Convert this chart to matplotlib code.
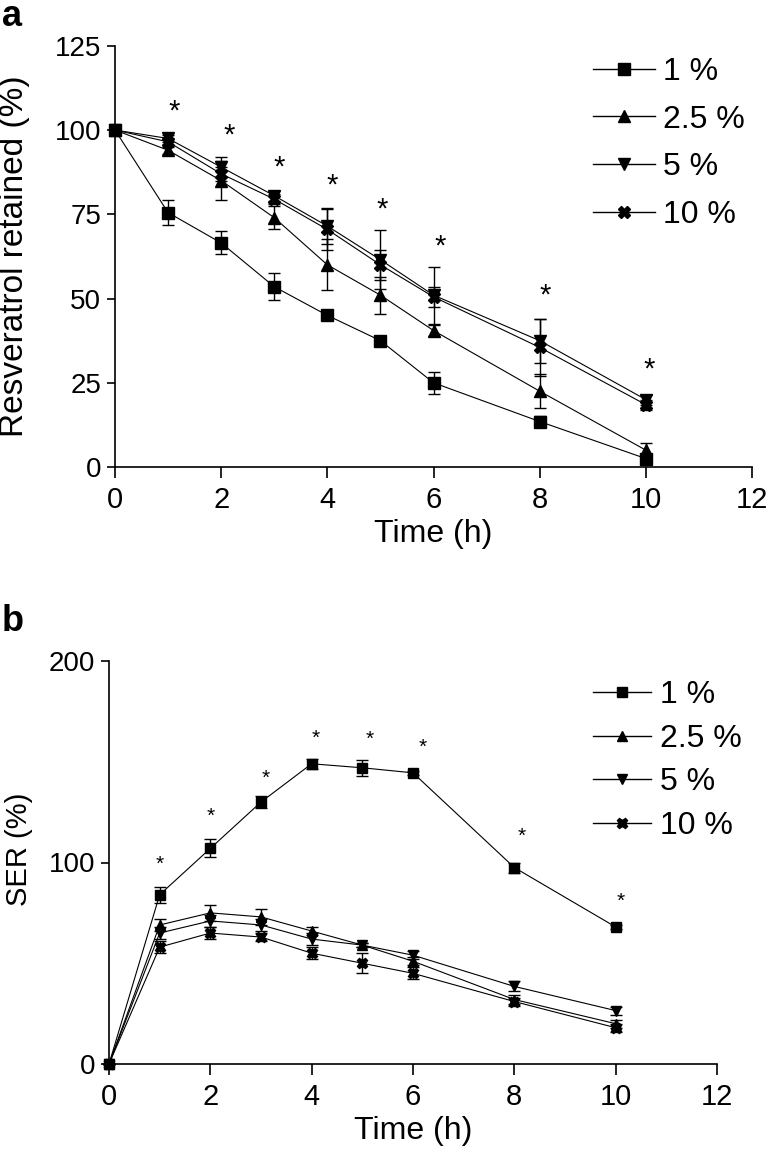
import matplotlib
matplotlib.use("Agg")
import matplotlib.pyplot as plt
from matplotlib.lines import Line2D
from matplotlib import transforms

plt.rcParams['font.family'] = ['Liberation Sans', 'DejaVu Sans']

# time points (h)
time_h = [0, 1, 2, 3, 4, 5, 6, 8, 10]
labels = ['1 %', '2.5 %', '5 %', '10 %']
markers = ['s', '^', 'v', 'X']

# panel a: resveratrol retained (%)
ret_1 = [100, 75.5, 66.5, 53.5, 45, 37.5, 25, 13.5, 2.5]
ret_1_err = [0, 3.7, 3.4, 4, 0.8, 0.8, 3.3, 1.5, 1]
ret_25 = [100, 94, 85, 74, 60, 51, 40.5, 22.5, 5]
ret_25_err = [0, 1, 5.8, 3.5, 7.6, 5.5, 1.5, 5, 2]
ret_5 = [100, 97.5, 89, 80.5, 71.5, 61.5, 51, 37.5, 20]
ret_5_err = [0, 1, 3, 1.5, 5.3, 8.8, 8.5, 6.5, 1.5]
ret_10 = [100, 96.5, 87, 79.5, 70.5, 60, 50.5, 35.5, 18.5]
ret_10_err = [0, 1, 2, 1.5, 6, 4.5, 3, 8.5, 1.5]
star_a_x = [1.12, 2.15, 3.1, 4.1, 5.03, 6.13, 8.1, 10.07]
star_a_y = [108, 101, 91.5, 86, 79, 68, 53.5, 31.5]

# panel b: SER (%)
ser_1 = [0, 84, 107, 130, 149, 147, 144.5, 97.5, 68]
ser_1_err = [0, 4, 4.5, 3, 2.5, 4, 1, 2.5, 1]
ser_25 = [0, 69, 75, 73, 66, 59, 51, 32, 20]
ser_25_err = [0, 3, 4, 4, 2, 1, 2, 2, 2]
ser_5 = [0, 65, 71, 69, 62, 59, 54, 38.5, 26.5]
ser_5_err = [0, 3, 3, 3, 3, 1, 2, 2.5, 2]
ser_10 = [0, 58, 65, 63, 55, 50, 45, 31, 18]
ser_10_err = [0, 3, 3, 2, 3, 5, 3, 2, 2]
star_b_x = [1.0, 2.0, 3.1, 4.08, 5.15, 6.19, 8.14, 10.1]
star_b_y = [102, 126, 145, 164.5, 164, 160.5, 116, 84]

W, H = 767, 1155
fig = plt.figure(figsize=(W / 100, H / 100), dpi=100)


def px_axes(x0, x1, y_top, y_bot):
    return fig.add_axes([x0 / W, 1 - y_bot / H, (x1 - x0) / W, (y_bot - y_top) / H])


def style(ax, yfs, xfs):
    for s in ['top', 'right']:
        ax.spines[s].set_visible(False)
    for s in ['left', 'bottom']:
        ax.spines[s].set_linewidth(1.2)
    ax.tick_params(axis='both', direction='out', width=1.2)
    ax.tick_params(axis='x', length=8, pad=6, labelsize=xfs)
    ax.tick_params(axis='y', length=6, pad=4, labelsize=yfs)


def draw(ax, series, errs, star_x, star_y, star_fs, ms):
    for y, e, m in zip(series, errs, markers):
        ax.errorbar(time_h, y, yerr=e, color='k', marker=m, ms=ms, lw=0.8,
                    elinewidth=1, capsize=4, capthick=1, clip_on=False)
    off = transforms.offset_copy(ax.transData, fig=fig, x=0, y=-0.3 * star_fs, units='points')
    for sx, sy in zip(star_x, star_y):
        ax.text(sx, sy, '*', fontsize=star_fs, ha='center', va='center', transform=off)


# ---- panel a ----
ax1 = px_axes(115, 752, 45.8, 467)
draw(ax1, [ret_1, ret_25, ret_5, ret_10],
     [ret_1_err, ret_25_err, ret_5_err, ret_10_err], star_a_x, star_a_y, 21, 8.5)
ax1.set_xlim(0, 12)
ax1.set_ylim(0, 125)
ax1.set_xticks(range(0, 13, 2))
ax1.set_yticks([0, 25, 50, 75, 100, 125])
style(ax1, 20, 21)
ax1.set_xlabel('Time (h)', fontsize=23, labelpad=3)
ax1.set_ylabel('Resveratrol retained (%)', fontsize=24)
ax1.yaxis.set_label_coords(30 / W, 1 - 256 / H, transform=fig.transFigure)

# ---- panel b ----
ax2 = px_axes(109, 717, 661, 1064)
draw(ax2, [ser_1, ser_25, ser_5, ser_10],
     [ser_1_err, ser_25_err, ser_5_err, ser_10_err], star_b_x, star_b_y, 15, 7.5)
ax2.set_xlim(0, 12)
ax2.set_ylim(0, 200)
ax2.set_xticks(range(0, 13, 2))
ax2.set_yticks([0, 100, 200])
style(ax2, 20, 21)
ax2.set_xlabel('Time (h)', fontsize=23, labelpad=3)
ax2.set_ylabel('SER (%)', fontsize=21)
ax2.yaxis.set_label_coords(33 / W, 1 - 849 / H, transform=fig.transFigure)

handles_a = [Line2D([], [], color='k', marker=m, ms=8, lw=1) for m in markers]
handles_b = [Line2D([], [], color='k', marker=m, ms=7.5, lw=1) for m in markers]
fig.legend(handles_a, labels, loc='upper left', bbox_to_anchor=(593 / W, 1 - 57 / H),
           frameon=False, fontsize=23, handlelength=1.95, handletextpad=0.25,
           labelspacing=0.55, borderpad=0, borderaxespad=0)
fig.legend(handles_b, labels, loc='upper left', bbox_to_anchor=(593 / W, 1 - 680 / H),
           frameon=False, fontsize=23, handlelength=1.8, handletextpad=0.3,
           labelspacing=0.43, borderpad=0, borderaxespad=0)

fig.text(2 / W, 1 - 26 / H, 'a', fontsize=26, fontweight='bold')
fig.text(2 / W, 1 - 631 / H, 'b', fontsize=26, fontweight='bold')

fig.savefig('out.png', dpi=100)
